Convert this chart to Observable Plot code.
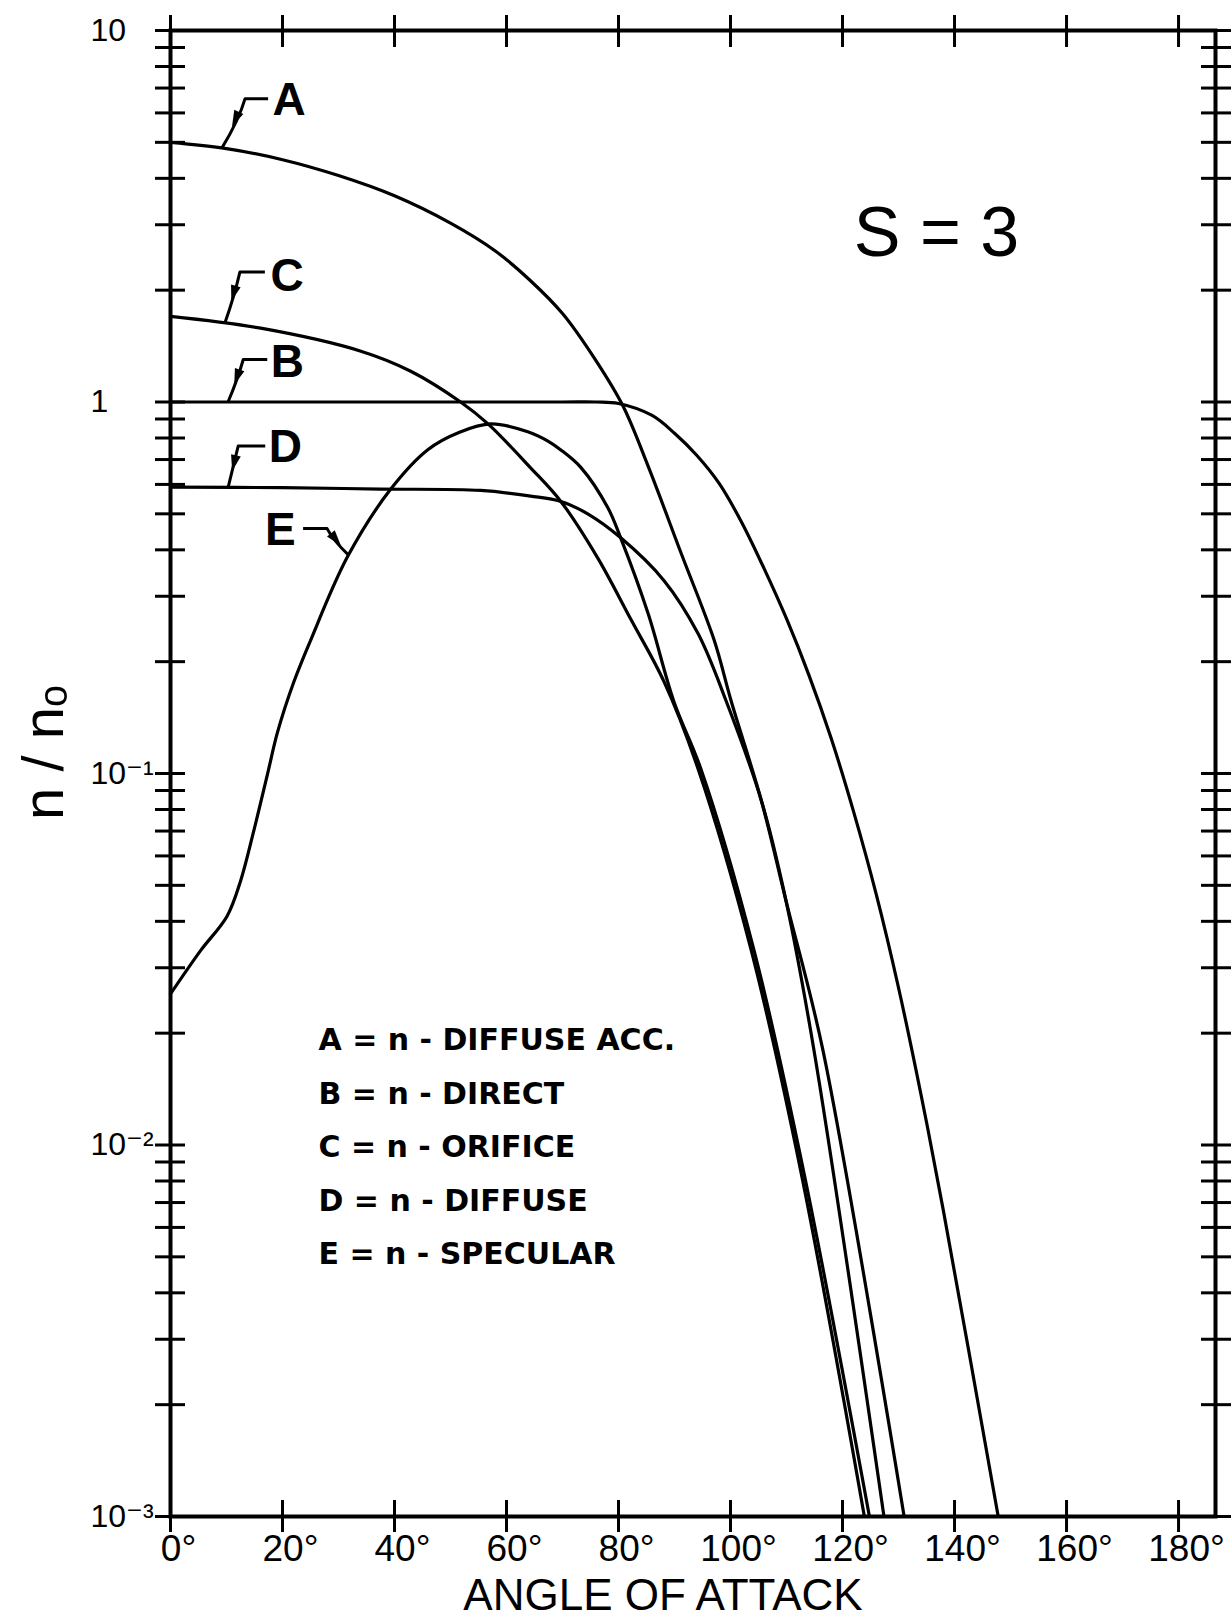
<!DOCTYPE html>
<html>
<head>
<meta charset="utf-8">
<script src="https://cdn.jsdelivr.net/npm/d3@7"></script>
<script src="https://cdn.jsdelivr.net/npm/@observablehq/plot@0.6"></script>
<style>
  html, body { margin: 0; padding: 0; background: #fff; }
  #chart svg { display: block; }
</style>
</head>
<body>
<div id="chart"></div>
<script>
// ---------------- data ----------------
const seriesKeys = ["A", "B", "C", "D", "E"];

// A = n - DIFFUSE ACC.
const angleA = [0, 10, 20, 30, 40, 50, 58, 64, 70, 76, 80.8, 85.3, 91.2, 97.1, 100.1, 105.5, 109.9, 116.5, 131];
const nA     = [5.0, 4.81, 4.49, 4.07, 3.59, 3.03, 2.55, 2.14, 1.73, 1.29, 0.975, 0.671, 0.391, 0.228, 0.157, 0.0846, 0.0455, 0.018, 0.001];

// B = n - DIRECT
const angleB = [0, 40, 70, 76, 80, 86, 90, 94, 98, 102, 106, 110, 114, 118, 122, 126, 130, 134, 138, 147.8];
const nB     = [1.0, 1.0, 1.0, 1.0, 0.991, 0.920, 0.824, 0.718, 0.603, 0.474, 0.356, 0.261, 0.184, 0.124, 0.0787, 0.0474, 0.0265, 0.0137, 0.00667, 0.001];

// C = n - ORIFICE
const angleC = [0, 16.1, 34, 42.9, 51.8, 56.7, 64.3, 69.7, 76.3, 82.2, 88.1, 94.2, 103.7, 112.6, 123.9];
const nC     = [1.7, 1.58, 1.37, 1.21, 1.0, 0.873, 0.665, 0.54, 0.38, 0.26, 0.177, 0.103, 0.0334, 0.00843, 0.001];

// D = n - DIFFUSE
const angleD = [0, 20, 37.5, 55.4, 64.3, 69.7, 74.5, 80.4, 88.1, 94.2, 99.2, 105.5, 109.9, 114.9, 127.4];
const nD     = [0.59, 0.588, 0.583, 0.578, 0.558, 0.54, 0.50, 0.431, 0.331, 0.238, 0.157, 0.0846, 0.0455, 0.018, 0.001];

// E = n - SPECULAR
const angleE = [0, 5.4, 10.1, 12.5, 14.8, 17.3, 19.1, 22, 25, 31.6, 39.3, 46, 51.5, 57.2, 63.8, 67.4, 69.7, 73.3, 78.1, 80.4, 85.3, 89.9, 94.7, 104.2, 113.1, 124.8];
const nE     = [0.0255, 0.0334, 0.0413, 0.0513, 0.0694, 0.0993, 0.129, 0.176, 0.228, 0.383, 0.582, 0.745, 0.828, 0.873, 0.832, 0.785, 0.743, 0.666, 0.519, 0.43, 0.269, 0.156, 0.103, 0.0334, 0.00843, 0.001];

const legendLines = ["A = n - DIFFUSE ACC.", "B = n - DIRECT", "C = n - ORIFICE", "D = n - DIFFUSE", "E = n - SPECULAR"];
const xTicks = [0, 20, 40, 60, 80, 100, 120, 140, 160, 180];
const xTickLabels = ["0°", "20°", "40°", "60°", "80°", "100°", "120°", "140°", "160°", "180°"];
const yMajor = [10, 1, 0.1, 0.01, 0.001];
const yMajorLabels = ["10", "1", "10⁻¹", "10⁻²", "10⁻³"];
const yTitle = "n / nₒ";
const xTitle = "ANGLE OF ATTACK";
const paramText = "S = 3";

// ---------------- build table ----------------
const seriesArrays = {A: [angleA, nA], B: [angleB, nB], C: [angleC, nC], D: [angleD, nD], E: [angleE, nE]};
const rows = [];
for (const key of seriesKeys) {
  const [as, ns] = seriesArrays[key];
  as.forEach((a, i) => rows.push({key, angle: a, n: ns[i]}));
}
const yTicks = [10, ...d3.range(-3, 1).flatMap(e => d3.range(1, 10).map(m => +(m * Math.pow(10, e)).toPrecision(6)))];

// position of a curve at a given angle (for the label leaders only)
function valueAt(key, angle) {
  const [as, ns] = seriesArrays[key];
  for (let i = 0; i < as.length - 1; i++) {
    if (angle >= as[i] && angle <= as[i + 1]) {
      const t = (angle - as[i]) / (as[i + 1] - as[i]);
      return Math.pow(10, Math.log10(ns[i]) + t * (Math.log10(ns[i + 1]) - Math.log10(ns[i])));
    }
  }
  return ns[ns.length - 1];
}

// label / leader geometry (pixel offsets from the point on the curve)
const leaders = [
  {key: "A", angle: 9.3,  corner: [23, -49], end: [46, -49], dx: 50,  dy: -48, anchor: "start"},
  {key: "C", angle: 9.8,  corner: [15, -51], end: [40, -51], dx: 45,  dy: -47, anchor: "start"},
  {key: "B", angle: 10.4, corner: [15, -42], end: [39, -42], dx: 42,  dy: -40, anchor: "start"},
  {key: "D", angle: 10.4, corner: [10, -41], end: [37, -41], dx: 40,  dy: -40, anchor: "start"},
  {key: "E", angle: 31.8, corner: [-21, -26], end: [-45, -26], dx: -53, dy: -25, anchor: "end"}
];

const FONT = "'Liberation Sans', 'DejaVu Sans', sans-serif";

const chart = Plot.plot({
  width: 1231,
  height: 1617,
  marginLeft: 170,
  marginRight: 16,
  marginTop: 30,
  marginBottom: 101,
  style: {background: "white", color: "black", fontFamily: FONT},
  x: {domain: [0, 186.6], label: null},
  y: {type: "log", domain: [0.001, 10], label: null},
  marks: [
    // tick marks crossing each side of the frame
    Plot.axisX(xTicks, {anchor: "bottom", tickSize: 32, dy: -16, fill: "none", strokeWidth: 3, label: null}),
    Plot.axisX(xTicks, {anchor: "top", tickSize: 32, dy: 16, fill: "none", strokeWidth: 3, label: null}),
    Plot.axisY(yTicks, {anchor: "left", tickSize: 30, dx: 15, fill: "none", strokeWidth: 3, label: null}),
    Plot.axisY(yTicks, {anchor: "right", tickSize: 30, dx: -15, fill: "none", strokeWidth: 3, label: null}),
    // tick labels
    Plot.axisX(xTicks, {anchor: "bottom", tickSize: 0, tickPadding: 18, dx: 8, fontSize: 37,
      tickFormat: d => xTickLabels[xTicks.indexOf(d)], label: null}),
    Plot.axisY(yMajor, {anchor: "left", tickSize: 0, tickPadding: 0, dx: -80, textAnchor: "start", fontSize: 32,
      tickFormat: d => yMajorLabels[yMajor.indexOf(d)], label: null}),
    Plot.frame({stroke: "black", strokeWidth: 4}),
    // curves
    Plot.line(rows, {x: "angle", y: "n", z: "key", stroke: "black", strokeWidth: 3.2,
      curve: "catmull-rom", strokeLinejoin: "round", strokeLinecap: "round"}),
    // curve letters
    ...leaders.map(L => Plot.text([L], {
      x: "angle", y: d => valueAt(d.key, d.angle), text: "key",
      dx: L.dx, dy: L.dy, textAnchor: L.anchor, lineAnchor: "middle",
      fontSize: 46, fontWeight: "bold", fill: "black"
    })),
    // parameter
    Plot.text([paramText], {frameAnchor: "top-left", dx: 766, dy: 225, textAnchor: "middle",
      lineAnchor: "bottom", fontSize: 70, fill: "black"}),
    // legend
    Plot.text([legendLines.join("\n")], {frameAnchor: "top-left", dx: 148, dy: 982, textAnchor: "start",
      lineAnchor: "top", lineHeight: 1.78, fontSize: 30, fontWeight: "bold",
      fontFamily: "'DejaVu Sans', sans-serif", fill: "black"}),
    // axis titles
    Plot.text([xTitle], {frameAnchor: "bottom", dx: -30, dy: 93, textAnchor: "middle", lineAnchor: "bottom",
      fontSize: 44, fill: "black"}),
    Plot.text([yTitle], {frameAnchor: "left", rotate: -90, dx: -108, dy: -21, textAnchor: "middle",
      lineAnchor: "bottom", fontSize: 58, fill: "black"})
  ]
});

document.getElementById("chart").appendChild(chart);

// leader lines with arrowheads, positioned through Plot's scales
const sx = chart.scale("x"), sy = chart.scale("y");
const g = d3.select(chart).append("g").attr("fill", "black").attr("stroke", "black");
for (const L of leaders) {
  const px = sx.apply(L.angle), py = sy.apply(valueAt(L.key, L.angle));
  const cx = px + L.corner[0], cy = py + L.corner[1];
  const ex = px + L.end[0], ey = py + L.end[1];
  const qx = cx + (px - cx) * 0.15 - (L.corner[0] > 0 ? 3 : -3), qy = cy + (py - cy) * 0.45;
  g.append("path")
    .attr("d", `M${ex},${ey}L${cx},${cy}Q${qx},${qy} ${px},${py}`)
    .attr("fill", "none").attr("stroke-width", 3).attr("stroke-linejoin", "round");
  // arrowhead along the diagonal, pointing to the curve
  const t = 0.42;
  const mx = cx + (px - cx) * t, my = cy + (py - cy) * t;
  const len = Math.hypot(px - cx, py - cy);
  const ux = (px - cx) / len, uy = (py - cy) / len;
  const hl = 16, hw = 5;
  const tipx = mx + ux * hl / 2, tipy = my + uy * hl / 2;
  const bx = mx - ux * hl / 2, by = my - uy * hl / 2;
  g.append("path")
    .attr("d", `M${tipx},${tipy}L${bx - uy * hw},${by + ux * hw}L${bx + uy * hw},${by - ux * hw}Z`)
    .attr("stroke", "none");
}
</script>
</body>
</html>
